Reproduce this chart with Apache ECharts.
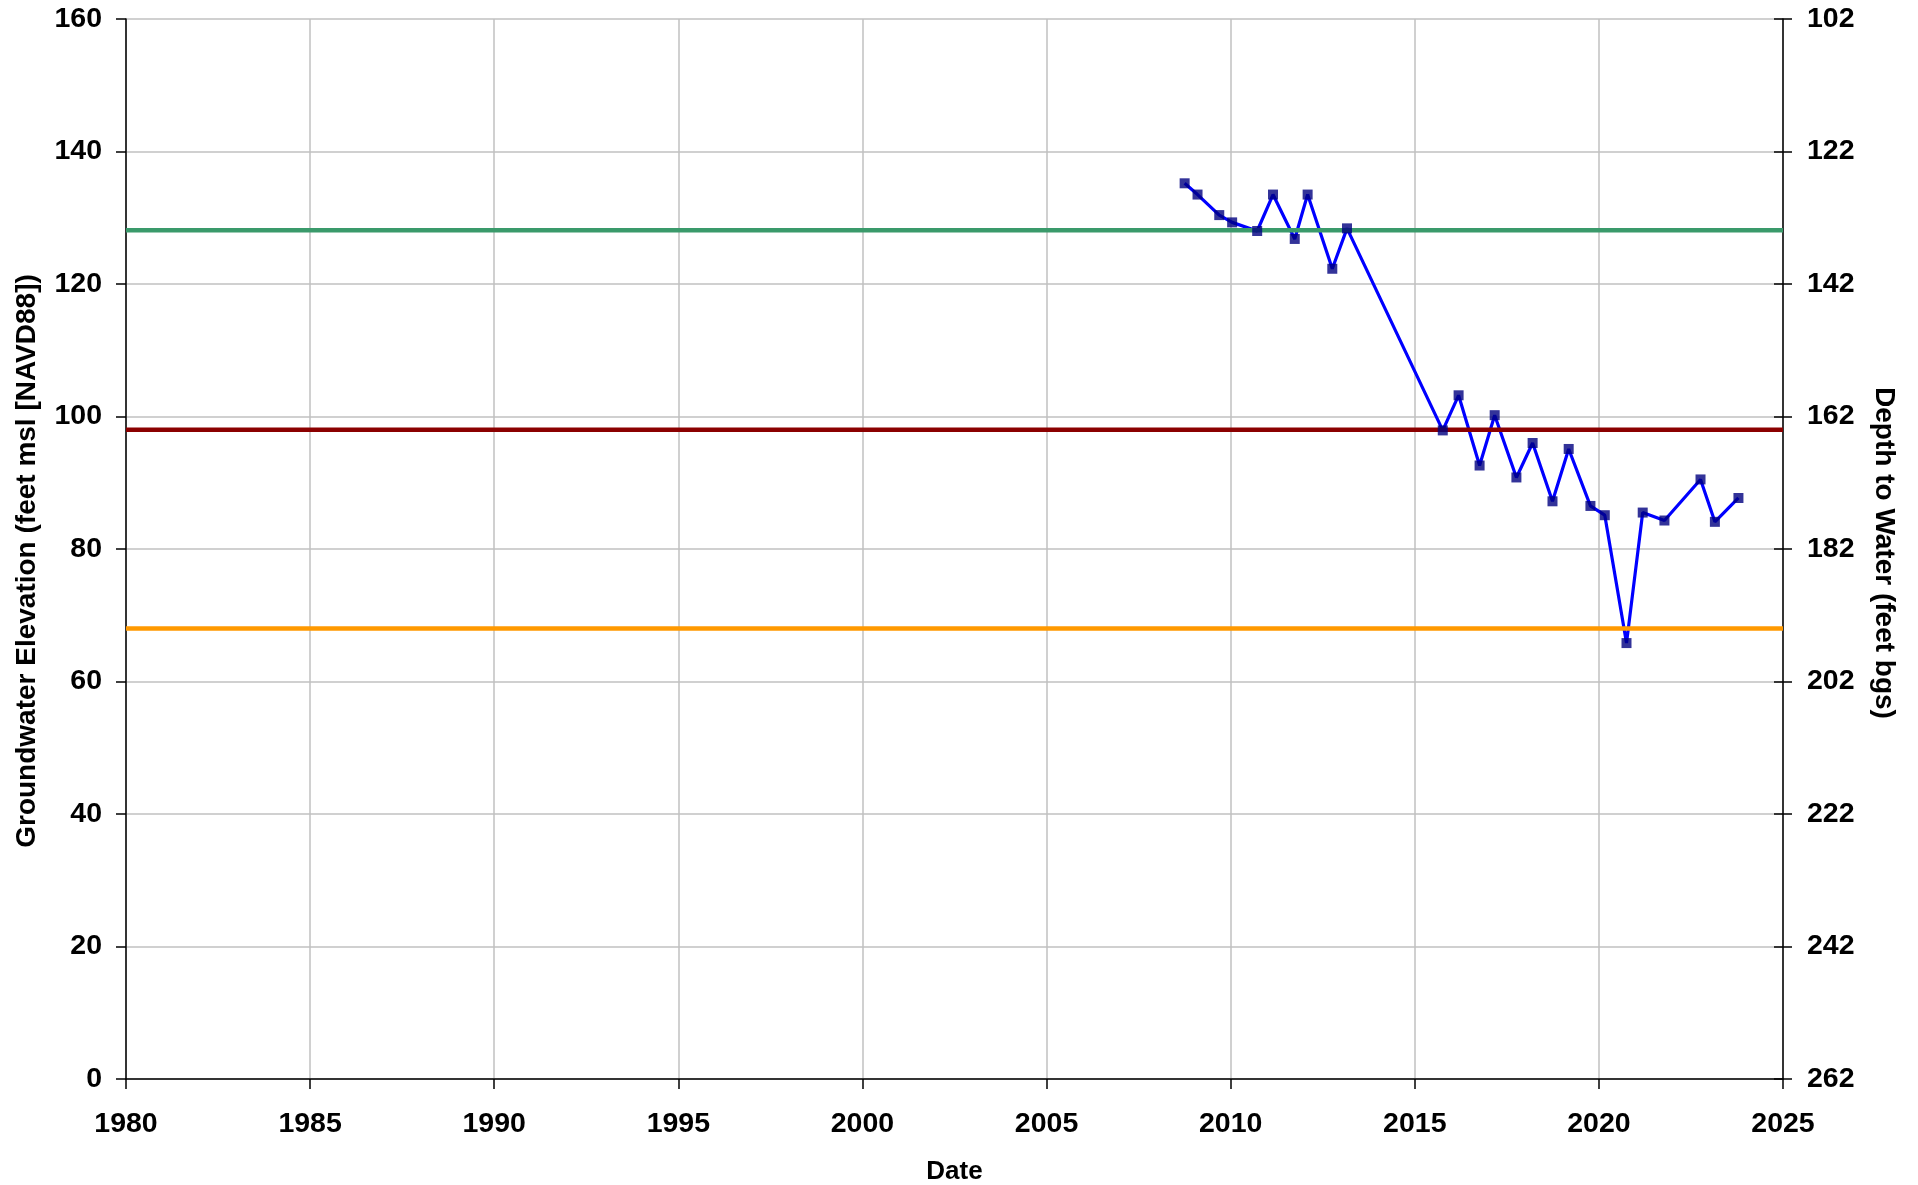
<!DOCTYPE html>
<html>
<head>
<meta charset="utf-8">
<script src="https://cdn.jsdelivr.net/npm/echarts@6/dist/echarts.min.js"></script>
<style>
html,body{margin:0;padding:0;background:#fff;}
#chart{width:1918px;height:1185px;}
</style>
</head>
<body>
<div id="chart"></div>
<script>
// Measurement dates (decimal years) and groundwater elevation (feet msl)
const dates = [2008.75, 2009.10, 2009.69, 2010.04, 2010.72, 2011.15, 2011.74, 2012.09, 2012.76, 2013.16,
               2015.76, 2016.19, 2016.76, 2017.17, 2017.76, 2018.20, 2018.74, 2019.18, 2019.77, 2020.16,
               2020.75, 2021.19, 2021.78, 2022.76, 2023.15, 2023.79];
const elevations = [135.2, 133.5, 130.4, 129.3, 128.0, 133.5, 126.8, 133.5, 122.3, 128.4,
                    97.9, 103.2, 92.6, 100.2, 90.8, 96.0, 87.2, 95.1, 86.5, 85.1,
                    65.8, 85.5, 84.3, 90.5, 84.1, 87.7];
// Horizontal reference levels (feet msl)
const refLevels = [128.1, 98.0, 68.0];
const refColors = ['#3A9A6B', '#8B0000', '#FF9900'];
// Axis ranges
const xRange = [1980, 2025];
const elevRange = [0, 160];
const depthRange = [102, 262];

const pts = dates.map((d, i) => [d, elevations[i]]);
const font = 'Liberation Sans, Arial, sans-serif';

const refSeries = refLevels.map((v, i) => ({
  type: 'line', xAxisIndex: 0, yAxisIndex: 0,
  data: [[xRange[0], v], [xRange[1], v]],
  showSymbol: false, symbol: 'none', silent: true,
  lineStyle: { color: refColors[i], width: 4.5 },
  z: 3, animation: false
}));

const chart = echarts.init(document.getElementById('chart'), null, { renderer: 'canvas' });
chart.setOption({
  backgroundColor: '#ffffff',
  animation: false,
  grid: { left: 126, right: 135, top: 19, bottom: 106, containLabel: false, outerBoundsMode: 'none' },
  xAxis: {
    type: 'value', min: xRange[0], max: xRange[1], interval: 5,
    name: 'Date', nameLocation: 'middle', nameGap: 80,
    nameTextStyle: { fontFamily: font, fontWeight: 'bold', fontSize: 26, color: '#000' },
    axisLine: { lineStyle: { color: '#000', width: 1.5 } },
    axisTick: { show: true, inside: false, length: 10, lineStyle: { color: '#000', width: 1.5 } },
    axisLabel: { fontFamily: font, fontWeight: 'bold', fontSize: 28.5, color: '#000', margin: 31,
                 formatter: v => String(v) },
    splitLine: { show: true, lineStyle: { color: '#C0C0C0', width: 1.5 } }
  },
  yAxis: [
    {
      type: 'value', min: elevRange[0], max: elevRange[1], interval: 20, position: 'left',
      name: 'Groundwater Elevation (feet msl [NAVD88])', nameLocation: 'middle', nameGap: 85, nameRotate: 90,
      nameTextStyle: { fontFamily: font, fontWeight: 'bold', fontSize: 28, color: '#000', padding: [0, 24, 0, 0] },
      axisLine: { show: true, lineStyle: { color: '#000', width: 1.5 } },
      axisTick: { show: true, inside: false, length: 10, lineStyle: { color: '#000', width: 1.5 } },
      axisLabel: { fontFamily: font, fontWeight: 'bold', fontSize: 28.5, color: '#000', margin: 24 },
      splitLine: { show: true, lineStyle: { color: '#C0C0C0', width: 1.5 } }
    },
    {
      type: 'value', min: depthRange[0], max: depthRange[1], interval: 20, inverse: true, position: 'right',
      name: 'Depth to Water (feet bgs)', nameLocation: 'middle', nameGap: 87, nameRotate: -90,
      nameTextStyle: { fontFamily: font, fontWeight: 'bold', fontSize: 28, color: '#000', padding: [0, 0, 0, 8] },
      axisLine: { show: true, lineStyle: { color: '#000', width: 1.5 } },
      axisTick: { show: true, inside: false, length: 9, lineStyle: { color: '#000', width: 1.5 } },
      axisLabel: { fontFamily: font, fontWeight: 'bold', fontSize: 28.5, color: '#000', margin: 24 },
      splitLine: { show: false }
    },
    {
      type: 'value', min: depthRange[0], max: depthRange[1], interval: 20, inverse: true, position: 'right',
      axisLine: { show: false },
      axisTick: { show: true, inside: true, length: 9, lineStyle: { color: '#000', width: 1.5 } },
      axisLabel: { show: false },
      splitLine: { show: false }
    }
  ],
  series: [
    {
      type: 'line', xAxisIndex: 0, yAxisIndex: 0, data: pts,
      showSymbol: false, symbol: 'none',
      lineStyle: { color: '#0000FF', width: 3.2 }, z: 2, animation: false
    },
    ...refSeries,
    {
      type: 'scatter', xAxisIndex: 0, yAxisIndex: 0, data: pts,
      symbol: 'rect', symbolSize: 10,
      itemStyle: { color: '#000080' }, z: 4, animation: false
    }
  ]
});
</script>
</body>
</html>
